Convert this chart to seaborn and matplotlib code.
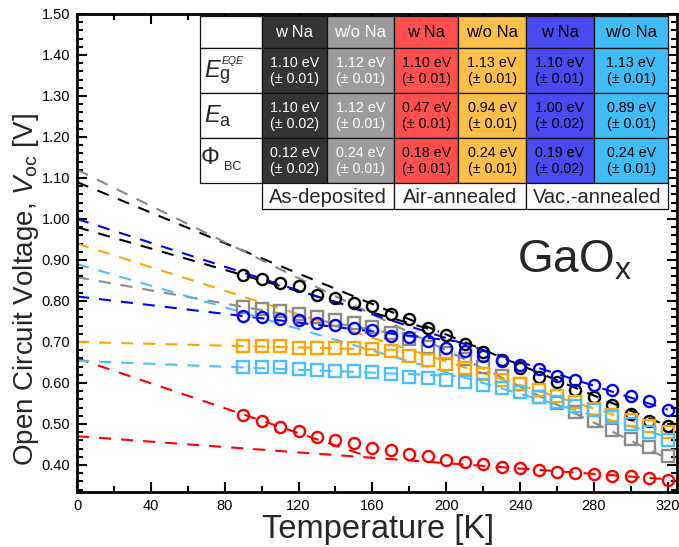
import numpy as np
import pandas as pd
import matplotlib
matplotlib.use("Agg")
import matplotlib.pyplot as plt
from matplotlib.patches import Rectangle
from matplotlib.ticker import MultipleLocator, FormatStrFormatter
import seaborn as sns

# ---------------- data ----------------
temps = [90, 100, 110, 120, 130, 140, 150, 160, 170, 180, 190, 200,
         210, 220, 230, 240, 250, 260, 270, 280, 290, 300, 310, 320]

asdep_wNa = [0.864, 0.853, 0.844, 0.836, 0.815, 0.808, 0.796, 0.787, 0.767, 0.755, 0.735, 0.716,
             0.696, 0.676, 0.656, 0.636, 0.615, 0.603, 0.583, 0.565, 0.547, 0.525, 0.507, 0.495]
asdep_woNa = [0.785, 0.780, 0.775, 0.767, 0.760, 0.753, 0.747, 0.736, 0.721, 0.706, 0.687, 0.674,
              0.658, 0.640, 0.617, 0.598, 0.566, 0.551, 0.529, 0.507, 0.486, 0.463, 0.443, 0.423]
air_wNa = [0.523, 0.507, 0.493, 0.482, 0.467, 0.462, 0.453, 0.442, 0.436, 0.427, 0.422, 0.412,
           0.408, 0.402, 0.396, 0.392, 0.388, 0.384, 0.381, 0.378, 0.373, 0.372, 0.368, 0.364]
air_woNa = [0.690, 0.690, 0.690, 0.686, 0.686, 0.686, 0.685, 0.683, 0.677, 0.666, 0.657, 0.646,
            0.637, 0.622, 0.608, 0.598, 0.583, 0.568, 0.553, 0.536, 0.521, 0.509, 0.494, 0.481]
vac_wNa = [0.763, 0.761, 0.757, 0.753, 0.747, 0.741, 0.733, 0.728, 0.715, 0.711, 0.703, 0.686,
           0.677, 0.666, 0.654, 0.644, 0.633, 0.618, 0.607, 0.594, 0.583, 0.568, 0.555, 0.533]
vac_woNa = [0.638, 0.638, 0.638, 0.634, 0.632, 0.630, 0.628, 0.627, 0.621, 0.615, 0.611, 0.606,
            0.602, 0.595, 0.587, 0.577, 0.565, 0.553, 0.545, 0.533, 0.517, 0.501, 0.481, 0.461]

series_names = ["asdep_wNa", "asdep_woNa", "air_wNa", "air_woNa", "vac_wNa", "vac_woNa"]
series_vals = [asdep_wNa, asdep_woNa, air_wNa, air_woNa, vac_wNa, vac_woNa]
series_colors = ["#000000", "#8a8a8a", "#ff0000", "#ffa500", "#0000ff", "#4cbfff"]
series_markers = ["o", "s", "o", "s", "o", "s"]

# high-temperature fit lines (T = 0 K -> 320 K)
hiT_T = [0, 320]
hiT_V0 = [1.09, 1.12, 0.47, 0.94, 1.00, 0.89]
hiT_V320 = [0.495, 0.415, 0.365, 0.480, 0.535, 0.468]
# low-temperature fit lines (T = 0 K -> end temperature)
loT_V0 = [0.980, 0.858, 0.660, 0.700, 0.811, 0.654]
loT_Tend = [196, 187, 160, 179, 205, 205]
loT_Vend = [0.725, 0.708, 0.417, 0.680, 0.702, 0.617]

# table contents
col_heads = ["w Na", "w/o Na", "w Na", "w/o Na", "w Na", "w/o Na"]
eg_vals = ["1.10 eV\n(± 0.01)", "1.12 eV\n(± 0.01)", "1.10 eV\n(± 0.01)",
           "1.13 eV\n(± 0.01)", "1.10 eV\n(± 0.01)", "1.13 eV\n(± 0.01)"]
ea_vals = ["1.10 eV\n(± 0.02)", "1.12 eV\n(± 0.01)", "0.47 eV\n(± 0.01)",
           "0.94 eV\n(± 0.01)", "1.00 eV\n(± 0.02)", "0.89 eV\n(± 0.01)"]
phi_vals = ["0.12 eV\n(± 0.02)", "0.24 eV\n(± 0.01)", "0.18 eV\n(± 0.01)",
            "0.24 eV\n(± 0.01)", "0.19 eV\n(± 0.02)", "0.24 eV\n(± 0.01)"]
groups = ["As-deposited", "Air-annealed", "Vac.-annealed"]
cell_colors = ["#343434", "#9c9c9c", "#ff4f4f", "#ffc04a", "#4a4af2", "#3fbdf6"]
cell_text_colors = ["white", "white", "black", "black", "black", "black"]

# ---------------- style ----------------
sns.set_style("ticks")
plt.rcParams["font.family"] = ["Liberation Sans", "DejaVu Sans"]
plt.rcParams["mathtext.fontset"] = "custom"
plt.rcParams["mathtext.rm"] = "Liberation Sans"
plt.rcParams["mathtext.it"] = "Liberation Sans:italic"
plt.rcParams["mathtext.default"] = "regular"

W, H = 679, 547
fig = plt.figure(figsize=(W / 100, H / 100), dpi=100)
ax = fig.add_axes([77 / W, 1 - 492 / H, 600 / W, 478 / H])

def fx(px):
    return px / W

def fy(py):
    return 1 - py / H

dash = (0, (5.8, 4.8))

# fit lines
for i in range(6):
    c = series_colors[i]
    sns.lineplot(x=hiT_T, y=[hiT_V0[i], hiT_V320[i]], color=c, ax=ax,
                 linestyle=dash, linewidth=1.5, zorder=2)
    sns.lineplot(x=[0, loT_Tend[i]], y=[loT_V0[i], loT_Vend[i]], color=c, ax=ax,
                 linestyle=dash, linewidth=1.5, zorder=2)

# data markers
for i in range(6):
    df = pd.DataFrame({"T": temps, "V": series_vals[i]})
    c = series_colors[i]
    sns.lineplot(data=df, x="T", y="V", ax=ax, linestyle="", marker=series_markers[i],
                 markersize=8, markerfacecolor="none", markeredgecolor=c,
                 markeredgewidth=1.7, color=c, zorder=3)

ax.set_xlim(0, 325)
ax.set_ylim(0.334, 1.50)
ax.xaxis.set_major_locator(MultipleLocator(40))
ax.xaxis.set_minor_locator(MultipleLocator(20))
ax.yaxis.set_major_locator(MultipleLocator(0.10))
ax.yaxis.set_minor_locator(MultipleLocator(0.02))
ax.yaxis.set_major_formatter(FormatStrFormatter("%.2f"))
ax.tick_params(which="both", direction="in", top=True, right=True, width=1.5,
               labelsize=10.5, colors="black", pad=5)
ax.tick_params(which="major", length=7)
ax.tick_params(which="minor", length=4)
for s in ax.spines.values():
    s.set_linewidth(2)
    s.set_color("black")
ax.set_xlabel("")
ax.set_ylabel("")

fig.text(fx(378), fy(538), "Temperature [K]", fontsize=23.5, ha="center", va="baseline")
fig.text(fx(26), fy(290), "Open Circuit Voltage, $\\mathit{V}_{oc}$ [V]", fontsize=20,
         rotation=90, ha="center", va="center")
fig.text(fx(517), fy(272), "GaO$_{x}$", fontsize=33, ha="left", va="baseline")

# ---------------- table ----------------
xe = [200, 261.7, 326.7, 394.3, 458.3, 526, 594, 668.3]
ye = [16, 48.3, 93.3, 138.3, 183.3, 209]
lw_cell = 0.9

def rect(x0, y0, x1, y1, fc):
    fig.add_artist(Rectangle((fx(x0), fy(y1)), (x1 - x0) / W, (y1 - y0) / H,
                             transform=fig.transFigure, facecolor=fc,
                             edgecolor="#111111", linewidth=lw_cell, zorder=5))

# first column
for r in range(4):
    rect(xe[0], ye[r], xe[1], ye[r + 1], "white")
rows = [col_heads, eg_vals, ea_vals, phi_vals]
for r in range(4):
    for c in range(6):
        rect(xe[c + 1], ye[r], xe[c + 2], ye[r + 1], cell_colors[c])
        cx = (xe[c + 1] + xe[c + 2]) / 2
        cy = (ye[r] + ye[r + 1]) / 2
        fs = 12 if r == 0 else 10.3
        fig.text(fx(cx), fy(cy), rows[r][c], fontsize=fs, color=cell_text_colors[c],
                 ha="center", va="center", linespacing=1.15, zorder=6)
for g in range(3):
    x0, x1 = xe[1 + 2 * g], xe[3 + 2 * g]
    rect(x0, ye[4], x1, ye[5], "white")
    fig.text(fx((x0 + x1) / 2), fy((ye[4] + ye[5]) / 2 + 1), groups[g], fontsize=14.5,
             ha="center", va="center", zorder=6)

# row labels
fig.text(fx(204), fy(76.7), "E", fontsize=17, style="italic", ha="left", va="baseline", zorder=6)
fig.text(fx(219), fy(79), "g", fontsize=13, ha="left", va="baseline", zorder=6)
fig.text(fx(222), fy(63.5), "EQE", fontsize=7.5, style="italic", ha="left", va="baseline", zorder=6)
fig.text(fx(204), fy(121.7), "E", fontsize=17, style="italic", ha="left", va="baseline", zorder=6)
fig.text(fx(219), fy(126.5), "a", fontsize=13, ha="left", va="baseline", zorder=6)
fig.text(fx(201), fy(163.5), "Φ", fontsize=17, ha="left", va="baseline", zorder=6)
fig.text(fx(224), fy(170), "BC", fontsize=9, ha="left", va="baseline", zorder=6)

fig.savefig("out.png", dpi=100)
